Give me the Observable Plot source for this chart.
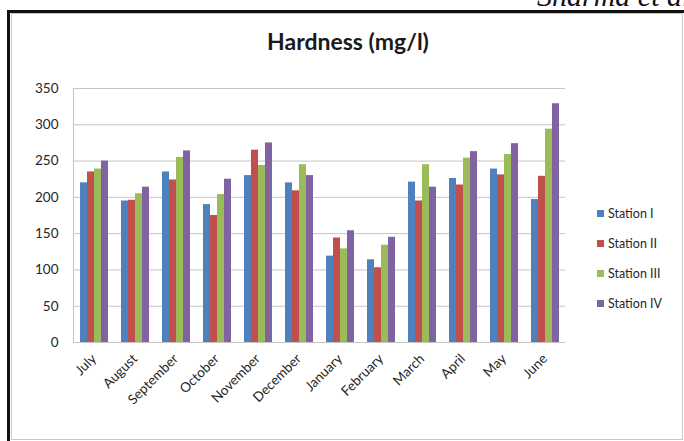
<!DOCTYPE html>
<html>
<head>
<meta charset="utf-8">
<script src="https://cdn.jsdelivr.net/npm/d3@7"></script>
<script src="https://cdn.jsdelivr.net/npm/@observablehq/plot@0.6"></script>
<style>
  html, body { margin: 0; padding: 0; background: #fff; }
  #page { position: relative; width: 684px; height: 441px; overflow: hidden; background: #fff; font-family: Lato, "Open Sans", sans-serif; }
  #cite { position: absolute; left: 537px; top: -19px; font-family: "Liberation Serif", "DejaVu Serif", serif; font-style: italic; font-size: 30px; line-height: 30px; color: #111; white-space: nowrap; }
  #outer { position: absolute; left: 7px; top: 10px; width: 700px; height: 460px; border-top: 3px solid #111; border-left: 3px solid #111; }
  #inner { position: absolute; left: 11px; top: 13px; width: 670px; height: 425px; border: 1px solid #c8c8c8; }
  #title { position: absolute; left: 190px; width: 316px; top: 27px; text-align: center; font-family: Lato, sans-serif; font-weight: bold; font-size: 23px; line-height: 28px; color: #1a1a1a; }
  #chart { position: absolute; left: 0; top: 60px; }
  #legend { position: absolute; left: 597px; top: 198px; }
  .item { display: flex; align-items: center; height: 30px; font-size: 12.5px; color: #262626; }
  .sw { width: 7px; height: 7px; margin-right: 4px; }
</style>
</head>
<body>
<div id="page">
  <div id="cite">Sharma et al.</div>
  <div id="outer"></div>
  <div id="inner"></div>
  <div id="title">Hardness (mg/l)</div>
  <div id="chart"></div>
  <div id="legend"></div>
</div>
<script>
const months = ["July", "August", "September", "October", "November", "December", "January", "February", "March", "April", "May", "June"];
const stations = ["Station I", "Station II", "Station III", "Station IV"];
const stationI   = [220, 195, 235, 190, 230, 220, 119, 114, 221, 226, 239, 197];
const stationII  = [235, 196, 224, 175, 265, 209, 144, 103, 195, 217, 231, 229];
const stationIII = [239, 205, 255, 204, 244, 245, 129, 134, 245, 254, 259, 294];
const stationIV  = [250, 214, 264, 225, 275, 230, 154, 145, 214, 263, 274, 329];
const yTicks = [0, 50, 100, 150, 200, 250, 300, 350];
const colors = ["#4F81BD", "#C0504D", "#9BBB59", "#8064A2"];

const series = [stationI, stationII, stationIII, stationIV];
const data = [];
months.forEach((m, i) => stations.forEach((s, j) => data.push({month: m, station: s, value: series[j][i]})));

const chart = Plot.plot({
  width: 600,
  height: 352,
  marginLeft: 67,
  marginRight: 30,
  marginTop: 28,
  marginBottom: 70,
  style: {fontFamily: "Lato, sans-serif", fontSize: "12px", color: "#262626", background: "transparent"},
  fx: {domain: months, paddingInner: 0, paddingOuter: 0, label: null},
  x: {domain: stations, paddingInner: 0, paddingOuter: 0.857, axis: null},
  y: {domain: [0, 350], label: null},
  color: {domain: stations, range: colors},
  marks: [
    Plot.gridY(yTicks, {stroke: "#c4c4c4", strokeOpacity: 1}),
    Plot.barY(data, {fx: "month", x: "station", y: "value", fill: "station"}),
    Plot.axisY(yTicks, {tickSize: 0, tickPadding: 15, fontSize: 13.5, label: null}),
    Plot.axisFx({anchor: "bottom", tickRotate: -45, tickSize: 0, tickPadding: 14, fontSize: 13.5, label: null}),
    Plot.frame({anchor: "left", stroke: "#c4c4c4", facetAnchor: "left"})
  ]
});
document.getElementById("chart").appendChild(chart);

const legend = document.getElementById("legend");
stations.forEach((s, i) => {
  const row = document.createElement("div");
  row.className = "item";
  const sw = document.createElement("div");
  sw.className = "sw";
  sw.style.background = colors[i];
  const t = document.createElement("span");
  t.textContent = s;
  row.appendChild(sw);
  row.appendChild(t);
  legend.appendChild(row);
});
</script>
</body>
</html>
